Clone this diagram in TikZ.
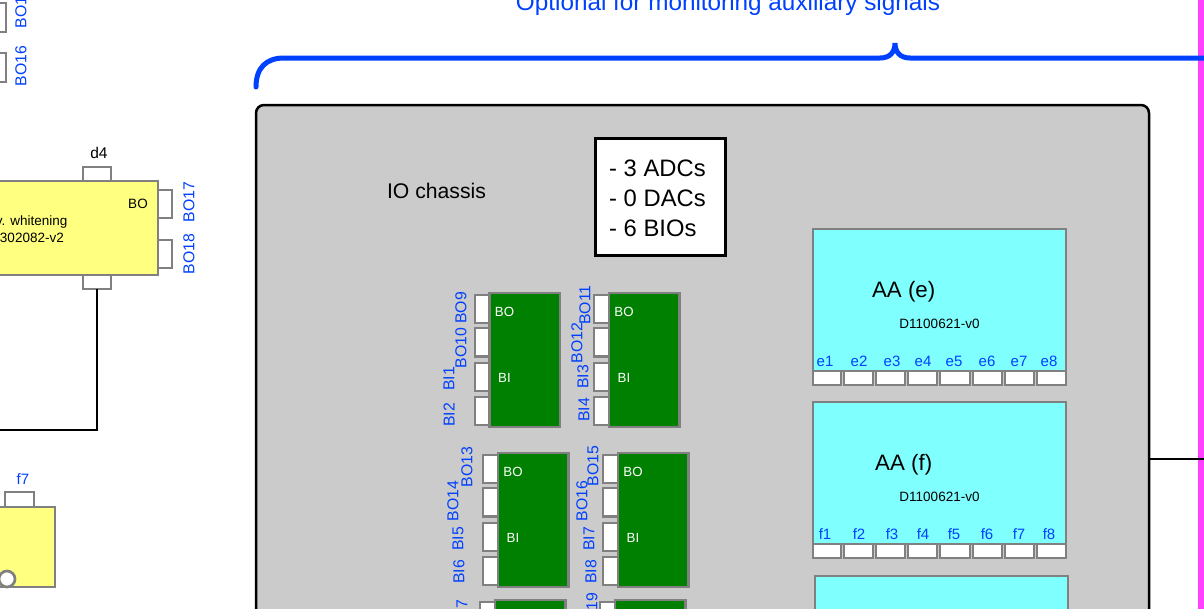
\documentclass[tikz,border=0pt]{standalone}
\usepackage{fontspec}
\setmainfont{Liberation Sans}
\definecolor{lineblue}{HTML}{0040FF}
\definecolor{pinkbar}{HTML}{FF40FF}
\definecolor{boxgray}{HTML}{808080}
\definecolor{chassisgray}{HTML}{CBCBCB}
\definecolor{paleyellow}{HTML}{FFFF80}
\definecolor{palecyan}{HTML}{80FFFF}
\definecolor{boardgreen}{HTML}{008000}
\tikzset{
  plain/.style={inner sep=0pt,outer sep=0pt,rectangle},
  portbox/.style={plain,draw=boxgray,line width=2.7pt,fill=white},
  yellowbox/.style={plain,draw=boxgray,line width=2.7pt,fill=paleyellow},
  cyanbox/.style={plain,draw=boxgray,line width=2.7pt,fill=palecyan},
  greenbox/.style={plain,draw=boxgray,line width=2.7pt,fill=boardgreen},
  chassisbox/.style={plain,draw=black,line width=2.5pt,fill=chassisgray,rounded corners=8pt},
  infobox/.style={plain,draw=black,line width=3pt,fill=white},
  wire/.style={draw=black,line width=2.8pt},
  bracket/.style={draw=lineblue,line width=5pt,line cap=round},
  bluetext/.style={inner sep=0pt,text=lineblue,font=\fontsize{15}{17}\selectfont},
  bluev/.style={inner sep=0pt,text=lineblue,font=\fontsize{15.8}{17}\selectfont,rotate=90},
  boardtext/.style={inner sep=0pt,text=white,font=\fontsize{13.3}{15}\selectfont},
  smalltext/.style={inner sep=0pt,font=\fontsize{13.5}{15}\selectfont},
  bigtext/.style={inner sep=0pt,font=\fontsize{21.2}{24}\selectfont},
}
% \bx{name}{x0}{y0}{x1}{y1}{style}
\newcommand{\bx}[6]{%
  \pgfmathsetmacro{\bxw}{#4-#2}\pgfmathsetmacro{\bxh}{#5-#3}%
  \pgfmathsetmacro{\bxcx}{(#2+#4)/2}\pgfmathsetmacro{\bxcy}{(#3+#5)/2}%
  \node[#6,minimum width=\bxw pt,minimum height=\bxh pt] (#1) at (\bxcx,\bxcy) {};}
\newcommand{\board}[4]{% name, left x of board, top y, port left x
  \pgfmathsetmacro{\bdr}{#2+70.5}\pgfmathsetmacro{\bdb}{#3+134}%
  \pgfmathsetmacro{\pa}{#3+2}\pgfmathsetmacro{\pb}{#3+35}\pgfmathsetmacro{\pc}{#3+70}\pgfmathsetmacro{\pd}{#3+104}%
  \pgfmathsetmacro{\pae}{\pa+28}\pgfmathsetmacro{\pbe}{\pb+28.5}\pgfmathsetmacro{\pce}{\pc+28}\pgfmathsetmacro{\pde}{\pd+28}%
  \bx{#1p1}{#4}{\pa}{#2}{\pae}{portbox}
  \bx{#1p2}{#4}{\pb}{#2}{\pbe}{portbox}
  \bx{#1p3}{#4}{\pc}{#2}{\pce}{portbox}
  \bx{#1p4}{#4}{\pd}{#2}{\pde}{portbox}
  \bx{#1}{#2}{#3}{\bdr}{\bdb}{greenbox}
  \pgfmathsetmacro{\tx}{#2+15}\pgfmathsetmacro{\tya}{#3+18.5}\pgfmathsetmacro{\tyb}{#3+84.5}%
  \node[boardtext] (#1bo) at (\tx,\tya) {BO};
  \node[boardtext] (#1bi) at (\tx,\tyb) {BI};}
\begin{document}
\begin{tikzpicture}[x=1pt,y=-1pt]
\clip (0,0) rectangle (1204,608);
\fill[white] (0,0) rectangle (1204,608);
% pink strip
\bx{pink}{1198}{-5}{1210}{615}{plain,fill=pinkbar}
% chassis
\bx{chassis}{256}{105}{1149}{700}{chassisbox}
% upper-left ports
\bx{lpa}{-20}{3}{6}{32}{portbox}
\bx{lpb}{-20}{53}{6}{82}{portbox}
\node[bluev] (lbo15) at (21,8) {BO15};
\node[bluev] (lbo16) at (21,66) {BO16};
% whitening box
\bx{dfour}{83}{167}{111}{181}{portbox}
\bx{dbot}{83}{275}{111}{289}{portbox}
\bx{wpa}{158}{190}{172}{218}{portbox}
\bx{wpb}{158}{240}{172}{268}{portbox}
\bx{white}{-40}{181}{158}{275}{yellowbox}
\node[smalltext,anchor=base] (d4) at (99,158) {\fontsize{15.5}{17}\selectfont d4};
\node[smalltext] (wbo) at (138,204) {BO};
\node[smalltext,anchor=base east] (wtxa) at (67.5,225) {Anv. whitening};
\node[smalltext,anchor=base east] (wtxb) at (64,242) {D1302082-v2};
\node[bluev] (wbo17) at (189,202) {BO17};
\node[bluev] (wbo18) at (189,254) {BO18};
\coordinate (wireend) at (-5,430);
\draw[wire] (dbot.south) |- (wireend);
% f7 box
\bx{ffport}{5}{492}{34}{507}{portbox}
\bx{fbox}{-40}{507}{55}{587}{yellowbox}
\node[bluetext,anchor=base] (ff) at (23,484) {f7};
\node[circle,draw=boxgray,line width=2.7pt,fill=white,minimum size=16pt,inner sep=0pt] (fcirc) at (7,579) {};
% brace
\coordinate (bra) at (256,87);
\coordinate (brb) at (1204,58);
\draw[bracket] (bra) .. controls (256,68) and (266,58) .. (284,58) -- (880,58)
  .. controls (890,58) and (895,52) .. (895,43)
  .. controls (895,52) and (900,58) .. (910,58) -- (brb);
\node[inner sep=0pt,text=lineblue,font=\fontsize{24.3}{26}\selectfont,anchor=base] (opt) at (728,10) {Optional for monitoring auxiliary signals};
% chassis text
\node[bigtext,anchor=base] (iolbl) at (436.5,198) {IO chassis};
\bx{info}{595.5}{138.5}{725.5}{255}{infobox}
\node[inner sep=0pt,anchor=north west,align=left,font=\fontsize{23.8}{30}\selectfont] (infotxt) at (609,160) {- 3 ADCs\\- 0 DACs\\- 6 BIOs};
% boards
\board{ba}{489.5}{293}{475}
\board{bb}{609}{293}{594}
\board{bc}{498}{453}{483}
\board{bd}{618}{453}{603}
\board{be}{495}{600}{480}
\board{bf}{615}{600}{600}
\node[bluev] (l1) at (461,308) {BO9};
\node[bluev] (l2) at (461,348) {BO10};
\node[bluev] (l3) at (449,379) {BI1};
\node[bluev] (l4) at (449,415) {BI2};
\node[bluev] (l5) at (585,305) {BO11};
\node[bluev] (l6) at (577,343) {BO12};
\node[bluev] (l7) at (583,377) {BI3};
\node[bluev] (l8) at (584,410) {BI4};
\node[bluev] (l9) at (467,467) {BO13};
\node[bluev] (l10) at (453,501) {BO14};
\node[bluev] (l11) at (458,539) {BI5};
\node[bluev] (l12) at (459,572) {BI6};
\node[bluev] (l13) at (593,466) {BO15};
\node[bluev] (l14) at (582,501) {BO16};
\node[bluev] (l15) at (589,539) {BI7};
\node[bluev] (l16) at (591,572) {BI8};
\node[bluev] (l17) at (462,620) {BO17};
\node[bluev] (l18) at (592,613) {BO19};
% AA boxes
\foreach \n/\xa/\xb in {1/813/841,2/844/873,3/876/905,4/908/937,5/940/970,6/973/1002,7/1005/1034,8/1037/1066}{
  \bx{ep\n}{\xa}{371}{\xb}{385}{portbox}
  \bx{fp\n}{\xa}{544}{\xb}{558}{portbox}
}
\bx{aae}{813}{229}{1066}{371}{cyanbox}
\bx{aaf}{813}{402}{1066}{544}{cyanbox}
\bx{aag}{815}{576}{1068}{720}{cyanbox}
\foreach \n/\lx in {1/825,2/859,3/892,4/923,5/954,6/987,7/1019,8/1049}{
  \node[bluetext,anchor=base] (el\n) at (\lx,366) {e\n};
  \node[bluetext,anchor=base] (fl\n) at (\lx,539) {f\n};
}
\node[bigtext,font=\fontsize{22.3}{24}\selectfont,anchor=base] (aaet) at (903.7,297) {AA (e)};
\node[bigtext,font=\fontsize{22.3}{24}\selectfont,anchor=base] (aaft) at (903.7,470) {AA (f)};
\node[smalltext,anchor=base] (aaed) at (939.5,328) {D1100621-v0};
\node[smalltext,anchor=base] (aafd) at (939.5,501) {D1100621-v0};
% right wire
\coordinate (rwire) at (1210,459);
\draw[wire] (chassis.east |- rwire) -- (rwire);
\end{tikzpicture}
\end{document}
